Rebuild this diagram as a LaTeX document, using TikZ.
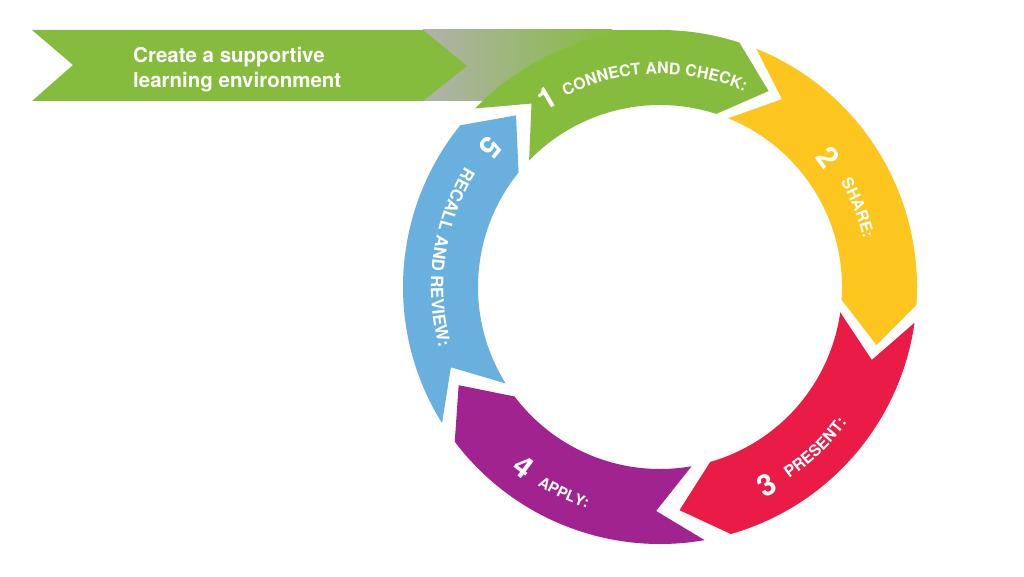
\documentclass[tikz,border=0pt]{standalone}
\usepackage{fontspec}
\setmainfont{TeX Gyre Heros}
\usetikzlibrary{decorations.text}
\definecolor{cgreen}{RGB}{134,188,62}
\definecolor{cyellow}{RGB}{252,198,31}
\definecolor{cred}{RGB}{234,27,68}
\definecolor{cpurple}{RGB}{161,35,144}
\definecolor{cblue}{RGB}{106,176,222}
\definecolor{cgray}{RGB}{176,178,172}
\def\Ro{257pt}
\def\Ri{182pt}
\def\Rm{224pt}
\def\dd{11}
\newcommand{\ringseg}[3]{%
  \fill[#1] (#2:\Ro) arc[start angle=#2, end angle=#3, radius=\Ro]
    -- ({#3-\dd}:\Rm) -- (#3:\Ri) arc[start angle=#3, end angle=#2, radius=\Ri]
    -- ({#2-\dd}:\Rm) -- cycle;}
\newcommand{\arclabel}[5]{% size, text, radius, start, end
  \path[decorate, decoration={text along path, text color=white, text align=center,
    text={|\fontsize{#1}{#1}\selectfont\bfseries|#2}}]
    (#4:#3) arc[start angle=#4, end angle=#5, radius=#3];}
\tikzset{
  num/.style={text=white, font=\bfseries\fontsize{30}{30}\selectfont, inner sep=0pt},
  btext/.style={text=white, font=\bfseries\fontsize{20.5}{24}\selectfont, inner sep=0pt},
}
\begin{document}
\begin{tikzpicture}[x=1pt, y=1pt]
\useasboundingbox[fill=white] (0,0) rectangle (1024,576);
% banner band with gradient
\shade[left color=cgray, right color=cgreen] (423,475) rectangle (612,546);
\fill[cgreen] (611,475) -- (611,546) -- (660,546) -- (660,475) -- cycle;
% banner chevron
\fill[cgreen] (32,546) -- (423,546) -- (467,510) -- (423,475) -- (32,475) -- (73,511) -- cycle;
\node[btext, anchor=base west] (bt1) at (133,513) {Create a supportive};
\node[btext, anchor=base west] (bt2) at (133,488) {learning environment};
% ring
\begin{scope}[shift={(660,289)}]
  \ringseg{cgreen}{136}{72}
  \ringseg{cyellow}{68}{-4}
  \ringseg{cred}{-8}{-74}
  \ringseg{cpurple}{-80}{-143}
  \ringseg{cblue}{212}{141}
  \node[num, rotate=31] (n1) at (121:220pt) {1};
  \node[num, rotate=-52] (n2) at (37.7:212pt) {2};
  \node[num, rotate=28] (n3) at (-61.8:225pt) {3};
  \node[num, rotate=-37] (n4) at (233:226pt) {4};
  \node[num, rotate=231] (n5) at (140.6:219pt) {5};
  \arclabel{16}{CONNECT AND CHECK:}{213pt}{131.5}{51.5}
  \arclabel{16}{SHARE:}{209pt}{51.8}{-8.2}
  \arclabel{16}{PRESENT:}{231pt}{-76}{-16}
  \arclabel{15}{APPLY:}{233pt}{215}{275}
  \arclabel{17}{RECALL AND REVIEW:}{229pt}{131.8}{211.8}
\end{scope}
\end{tikzpicture}
\end{document}
